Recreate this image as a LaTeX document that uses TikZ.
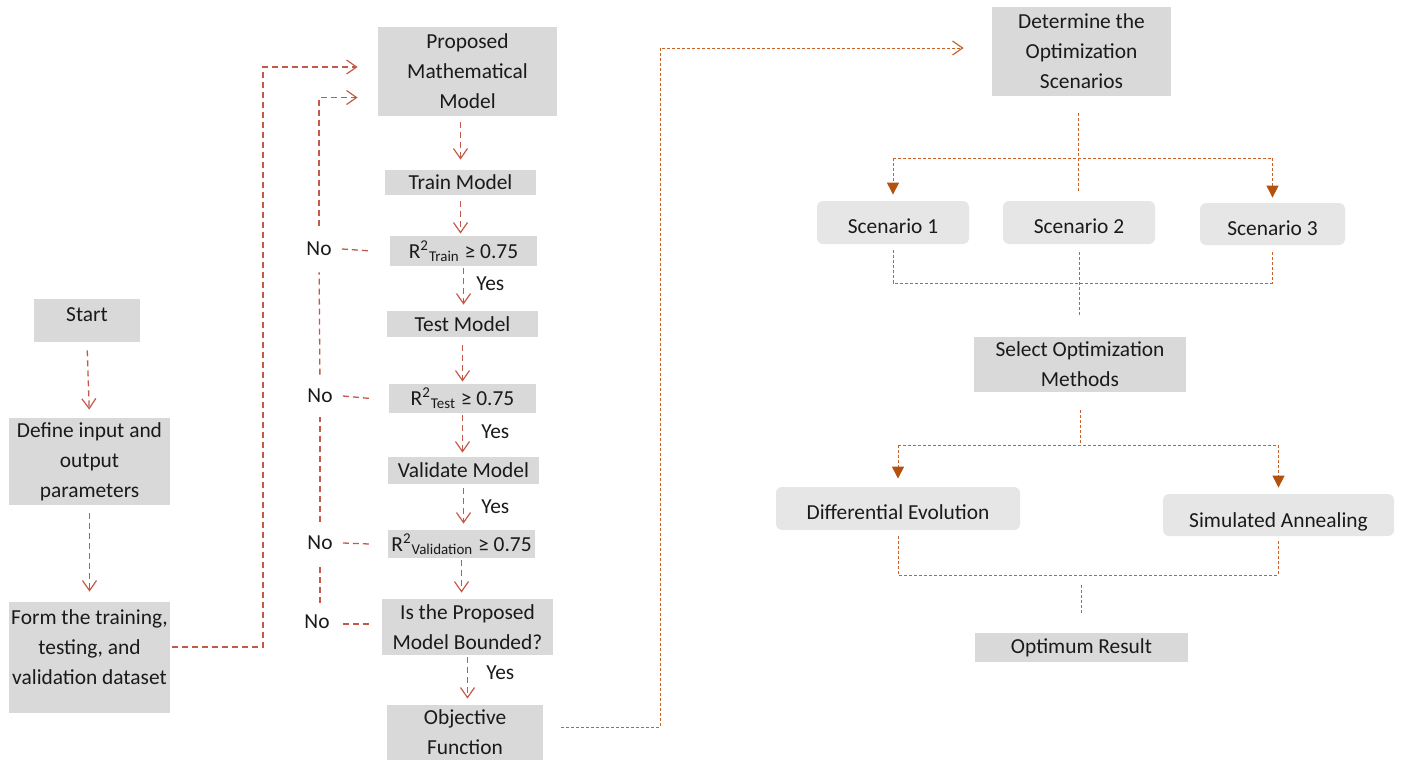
\documentclass[tikz,border=0pt]{standalone}
\usepackage{fontspec}
\setmainfont{Carlito}
\usetikzlibrary{arrows.meta,calc}
\definecolor{boxgray}{HTML}{D9D9D9}
\definecolor{scgray}{HTML}{E6E6E6}
\definecolor{redline}{HTML}{C4594A}
\definecolor{orline}{HTML}{C8622A}
\definecolor{ortip}{HTML}{B5510F}
\definecolor{txt}{HTML}{1A1A1A}
\begin{document}
\begin{tikzpicture}[x=0.5pt,y=-0.5pt,
  font=\fontsize{10.7pt}{15pt}\selectfont, text=txt,
  gbox/.style 2 args={fill=boxgray, inner sep=0pt, align=center,
    minimum width=#1*0.5pt, minimum height=#2*0.5pt},
  sbox/.style 2 args={fill=scgray, rounded corners=3pt, inner sep=0pt, align=center,
    minimum width=#1*0.5pt, minimum height=#2*0.5pt, text height=11pt, text depth=0pt},
  lbl/.style={inner sep=0pt},
  redash/.style={draw=redline, line width=0.65pt, dash pattern=on 3pt off 2pt},
  odot/.style={draw=orline, line width=0.5pt, dash pattern=on 1.5pt off 1pt},
  vtip/.style={-{Straight Barb[length=5pt,width=7pt,line width=0.6pt,color=redline]}},
  otip/.style={-{Straight Barb[length=5pt,width=7pt,line width=0.6pt,color=orline]}},
  ttip/.style={-{Triangle[length=6pt,width=6pt,color=ortip]}}
]
\useasboundingbox (0,0) rectangle (1403,762);

% left column
\node[gbox={106}{43}, text depth=6pt] (start) at (87,320.5) {Start};
\node[gbox={161}{87}] (define) at (89.5,461.5) {Define input and\\output\\parameters};
\node[gbox={161}{111}] (form) at (89.5,657.5) {};
\node[lbl, align=center] (formtxt) at (89.5,647) {Form the training,\\testing, and\\validation dataset};

% middle column
\node[gbox={179}{89}] (proposed) at (467.5,71.5) {Proposed\\Mathematical\\Model};
\node[gbox={151}{25}] (train) at (460.5,182.5) {Train Model};
\node[gbox={147}{30}] (rtrain) at (463.5,251) {R\textsuperscript{2}\textsubscript{Train} ≥ 0.75};
\node[gbox={151}{26}] (test) at (462.5,324) {Test Model};
\node[gbox={147}{29}] (rtest) at (462.5,398.5) {R\textsuperscript{2}\textsubscript{Test} ≥ 0.75};
\node[gbox={151}{27}] (validate) at (463.5,470.5) {Validate Model};
\node[gbox={147}{28}] (rval) at (461.5,544) {R\textsuperscript{2}\textsubscript{Validation} ≥ 0.75};
\node[gbox={171}{56}] (bounded) at (467.5,627) {Is the Proposed\\Model Bounded?};
\node[gbox={156}{55}] (objective) at (465,732.5) {Objective\\Function};

\node[lbl] (no1) at (319,249) {No};
\node[lbl] (no2) at (320,396) {No};
\node[lbl] (no3) at (320,543) {No};
\node[lbl] (no4) at (317,622) {No};

\node[lbl, anchor=west] (yes1) at (476,284) {Yes};
\node[lbl, anchor=west] (yes2) at (481,432) {Yes};
\node[lbl, anchor=west] (yes3) at (481,507) {Yes};
\node[lbl, anchor=west] (yes4) at (486,673) {Yes};

% right part
\node[gbox={179}{89}] (determine) at (1081.5,51.5) {Determine the\\Optimization\\Scenarios};
\node[sbox={152}{43}] (sc1) at (893,222.5) {Scenario 1};
\node[sbox={152}{43}] (sc2) at (1079,222.5) {Scenario 2};
\node[sbox={145}{42}] (sc3) at (1272.5,224) {Scenario 3};
\node[gbox={212}{55}] (select) at (1080,364.5) {Select Optimization\\Methods};
\node[sbox={244}{43}] (diff) at (898,508.5) {Differential Evolution};
\node[sbox={231}{42}, text height=12pt] (sim) at (1278.5,515) {Simulated Annealing};
\node[gbox={213}{29}] (optimum) at (1081.5,647.5) {Optimum Result};

% left connectors
\draw[redash, vtip, shorten <=4pt, shorten >=4pt] (start.south) -- (define.north);
\draw[redash, vtip, shorten <=4pt, shorten >=5pt] (define.south) -- (form.north);
\coordinate (f1) at (263,647);
\draw[redash, vtip, shorten <=1pt, shorten >=10pt] (formtxt -| form.east) -- (f1) |- ($(proposed.west)+(0,-4.5)$);

% middle connectors
\draw[redash, vtip, shorten <=3pt, shorten >=5pt] (train.north |- proposed.south) -- (train.north);
\draw[redash, vtip, shorten <=3pt, shorten >=1pt] (train.south) -- (train.south |- rtrain.north);
\draw[redash, vtip, shorten <=1pt, shorten >=3pt] (rtrain.south) -- (rtrain.south |- test.north);
\draw[redash, vtip, shorten <=4pt, shorten >=1pt] (test.south) -- (test.south |- rtest.north);
\draw[redash, vtip, shorten <=1pt, shorten >=2pt] (rtest.south) -- (rtest.south |- validate.north);
\draw[redash, vtip, shorten <=2pt, shorten >=3pt] (validate.south) -- (validate.south |- rval.north);
\draw[redash, vtip, shorten <=1pt, shorten >=3pt] (rval.south) -- (rval.south |- bounded.north);
\draw[redash, vtip, shorten <=1pt, shorten >=3pt] (bounded.south) -- (bounded.south |- objective.north);

% No feedback loop
\draw[redash] ($(no1.east)+(10,0)$) -- ($(rtrain.west)+(-18,0)$);
\draw[redash] ($(no2.east)+(10,0)$) -- ($(rtest.west)+(-18,0)$);
\draw[redash] ($(no3.east)+(10,0)$) -- ($(rval.west)+(-18,0)$);
\draw[redash] ($(no4.east)+(13,2)$) -- ($(bounded.west)+(-10,-3)$);
\draw[redash, shorten <=6pt, shorten >=7pt] (no4.north -| no3.south) -- (no3.south);
\draw[redash, shorten <=7pt, shorten >=7pt] (no3.north) -- (no2.south);
\draw[redash, shorten <=7pt, shorten >=8pt] (no2.north) -- (no1.south);
\draw[redash, vtip, shorten <=8pt, shorten >=10pt] (no1.north) |- ($(proposed.west)+(0,26)$);

% objective to determine
\coordinate (o1) at (660,727);
\draw[odot, otip, shorten <=9pt, shorten >=14pt] (objective.east |- o1) -- (o1) |- ($(determine.west)+(0,-3.5)$);

% scenarios branch
\coordinate (b1) at (1078,158);
\draw[odot, shorten <=8.5pt, shorten >=4.5pt] (determine.south -| b1) -- (sc2.north -| b1);
\draw[odot] (sc1.north |- b1) -- (sc3.north |- b1);
\draw[odot, ttip, shorten >=3pt] (sc1.north |- b1) -- (sc1.north);
\draw[odot, ttip, shorten >=2.5pt] (sc3.north |- b1) -- (sc3.north);

\coordinate (m1) at (1079,283);
\draw[odot, shorten <=3pt, shorten >=3pt] (sc1.south) -- (sc1.south |- m1) -- (sc3.south |- m1) -- (sc3.south);
\draw[odot, shorten <=4pt, shorten >=10pt] (sc2.south) -- (sc2.south |- select.north);

% methods branch
\coordinate (b2) at (1080,445);
\draw[odot, shorten <=9pt] (select.south) -- (select.south |- b2);
\draw[odot] (diff.north |- b2) -- (sim.north |- b2);
\draw[odot, ttip, shorten >=4pt] (diff.north |- b2) -- (diff.north);
\draw[odot, ttip, shorten >=3pt] (sim.north |- b2) -- (sim.north);

\coordinate (m2) at (1082,575);
\draw[odot, shorten <=3pt, shorten >=2pt] (diff.south) -- (diff.south |- m2) -- (sim.south |- m2) -- (sim.south);
\draw[odot, shorten <=5pt, shorten >=10pt] (optimum.north |- m2) -- (optimum.north);
\end{tikzpicture}
\end{document}
